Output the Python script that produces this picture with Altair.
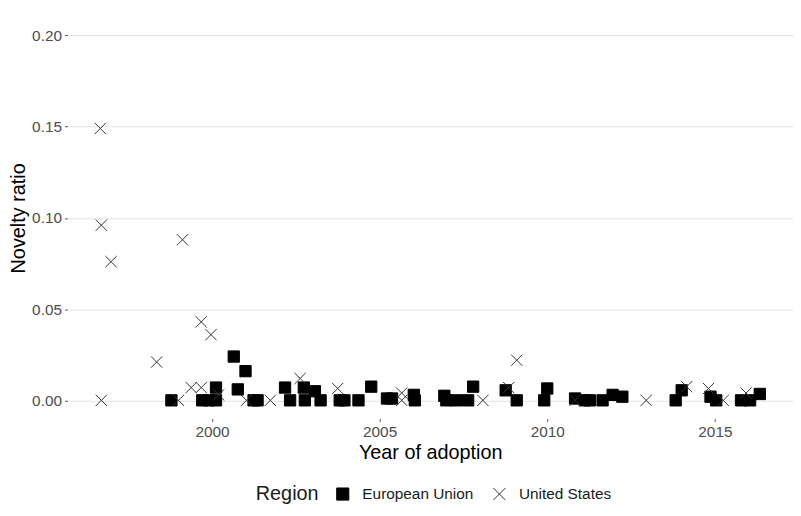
import altair as alt
import pandas as pd

regions = ["European Union", "United States"]

eu_year = [1998.79, 1999.71, 1999.91, 2000.12, 2000.12, 2000.65, 2000.77, 2001.0,
           2001.24, 2001.36, 2002.18, 2002.33, 2002.74, 2002.77, 2003.07, 2003.24,
           2003.81, 2003.95, 2004.37, 2004.75, 2005.22, 2005.37, 2006.02, 2006.05,
           2006.93, 2006.99, 2007.29, 2007.64, 2007.79, 2008.76, 2009.09, 2009.91,
           2010.0, 2010.83, 2011.12, 2011.27, 2011.65, 2011.95, 2012.24, 2013.83,
           2014.01, 2014.87, 2015.04, 2015.78, 2016.05, 2016.34]
eu_ratio = [0.0, 0.0, 0.0, 0.0, 0.007, 0.024, 0.006, 0.016,
            0.0, 0.0, 0.007, 0.0, 0.007, 0.0, 0.005, 0.0,
            0.0, 0.0, 0.0, 0.0075, 0.001, 0.001, 0.003, 0.0,
            0.0025, 0.0, 0.0, 0.0, 0.0075, 0.0055, 0.0, 0.0,
            0.0065, 0.001, 0.0, 0.0, 0.0, 0.003, 0.002, 0.0,
            0.0055, 0.002, 0.0, 0.0, 0.0, 0.0035]

us_year = [1996.67, 1996.70, 1996.99, 1996.70, 1998.35, 1999.12, 1999.0, 1999.38,
           1999.68, 1999.68, 1999.97, 2000.2, 2001.03, 2001.74, 2002.63, 2003.75,
           2005.66, 2005.66, 2008.08, 2009.09, 2008.85, 2010.83, 2012.95, 2014.16,
           2014.81, 2015.25, 2015.93]
us_ratio = [0.149, 0.096, 0.076, 0.0, 0.021, 0.088, 0.0, 0.007,
            0.007, 0.043, 0.036, 0.003, 0.0, 0.0, 0.012, 0.0065,
            0.004, 0.0, 0.0, 0.022, 0.007, 0.0, 0.0, 0.0075,
            0.0065, 0.0, 0.004]

x_ticks = [2000, 2005, 2010, 2015]
y_ticks = [0.0, 0.05, 0.10, 0.15, 0.20]

df = pd.DataFrame({
    "year": eu_year + us_year,
    "ratio": eu_ratio + us_ratio,
    "Region": [regions[0]] * len(eu_year) + [regions[1]] * len(us_year),
})

XPATH = "M-1,-1L1,1M-1,1L1,-1"
FONT = "Liberation Sans"

legend = alt.Legend(
    title="Region", orient="none", direction="horizontal", titleOrient="left",
    legendX=190, legendY=473, titleFontSize=20, titleFont=FONT, titleColor="#1a1a1a",
    titleFontWeight="normal", titlePadding=16, labelFontSize=15.5, labelFont=FONT,
    labelColor="#1a1a1a", labelOffset=12, columnPadding=17, symbolSize=150,
    symbolStrokeWidth=1,
)

chart = alt.Chart(df).mark_point(size=130, opacity=1, strokeWidth=1).encode(
    x=alt.X("year:Q",
            scale=alt.Scale(domain=[1995.69, 2017.33], nice=False, zero=False),
            axis=alt.Axis(values=x_ticks, format="d", grid=False, title="Year of adoption",
                          domain=False, ticks=True, tickSize=3, tickColor="#555",
                          labelPadding=3, labelFontSize=15.5, labelColor="#4d4d4d",
                          labelFont=FONT, titleFont=FONT, titleFontSize=20,
                          titleFontWeight="normal", titleColor="#000", titlePadding=3)),
    y=alt.Y("ratio:Q",
            scale=alt.Scale(domain=[-0.01, 0.21], nice=False, zero=False),
            axis=alt.Axis(values=y_ticks, format=".2f", title="Novelty ratio",
                          domain=False, ticks=True, tickSize=3, tickColor="#555",
                          labelPadding=3, labelFontSize=15.5, labelColor="#4d4d4d",
                          labelFont=FONT, titleFont=FONT, titleFontSize=20,
                          titleFontWeight="normal", titleColor="#000", titlePadding=3,
                          grid=True, gridColor="#e3e3e3", gridWidth=1)),
    shape=alt.Shape("Region:N", scale=alt.Scale(domain=regions, range=["square", XPATH]),
                    legend=legend),
    fill=alt.Fill("Region:N", scale=alt.Scale(domain=regions, range=["#000000", "rgba(0,0,0,0)"]),
                  legend=legend),
    stroke=alt.Stroke("Region:N", scale=alt.Scale(domain=regions, range=["#000000", "#333333"]),
                      legend=legend),
).properties(
    width=732, height=405,
    autosize=alt.AutoSizeParams(type="none"),
    padding={"left": 60, "top": 7, "right": 0, "bottom": 93},
).configure_view(stroke=None)

chart.save("out.html", embed_options={"renderer": "svg", "actions": False})
